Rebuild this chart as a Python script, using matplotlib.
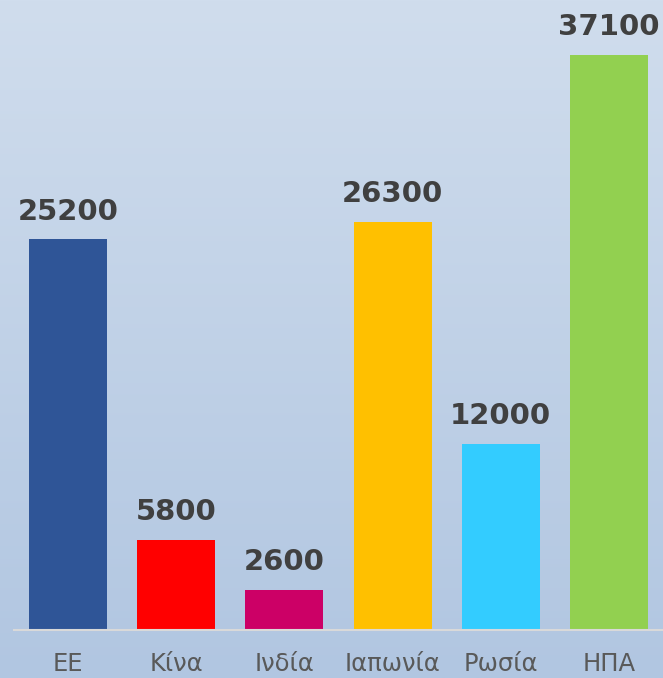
import matplotlib
matplotlib.use("Agg")
import matplotlib.pyplot as plt
import numpy as np

# Δεδομένα
categories = ["ΕΕ", "Κίνα", "Ινδία", "Ιαπωνία", "Ρωσία", "ΗΠΑ"]
values = [25200, 5800, 2600, 26300, 12000, 37100]
bar_colors = ["#2F5597", "#FF0000", "#CC0066", "#FFC000", "#33CCFF", "#92D050"]

LABEL_INK = "#404040"
TICK_INK = "#595959"
AXIS_LINE = "#d9d9d9"
BG_TOP = np.array([208, 221, 237]) / 255
BG_BOTTOM = np.array([177, 198, 225]) / 255

plt.rcParams["font.family"] = ["DejaVu Sans"]

fig = plt.figure(figsize=(6.63, 6.78), dpi=100)

# fundo em degradê
bg = fig.add_axes([0, 0, 1, 1], zorder=0)
t = np.linspace(0, 1, 256)[:, None]
rows = (BG_TOP[None, :] * (1 - t) + BG_BOTTOM[None, :] * t)[:, None, :]
bg.imshow(rows, aspect="auto", extent=[0, 1, 0, 1])
bg.set_axis_off()

ax = fig.add_axes([14 / 663, 48 / 678, 649 / 663, 630 / 678], zorder=1)
ax.patch.set_alpha(0)

x = np.arange(len(categories))
bars = ax.bar(x, values, color=bar_colors, width=0.72, zorder=2)
for rect, v in zip(bars, values):
    ax.annotate(f"{v}", (rect.get_x() + rect.get_width() / 2, v),
                xytext=(0, 10), textcoords="offset points",
                ha="center", va="bottom", fontsize=21, fontweight="bold",
                color=LABEL_INK, annotation_clip=False)

ax.set_xlim(-0.5, len(categories) - 0.5)
ax.set_ylim(0, 37100 * 630 / 575)
ax.set_xticks(x)
ax.set_xticklabels(categories, fontsize=17.5, color=TICK_INK)
ax.tick_params(axis="x", length=0, pad=16)
ax.set_yticks([])
for side in ["top", "right", "left"]:
    ax.spines[side].set_visible(False)
ax.spines["bottom"].set_color(AXIS_LINE)
ax.spines["bottom"].set_linewidth(1.5)

fig.savefig("out.png", dpi=100)
